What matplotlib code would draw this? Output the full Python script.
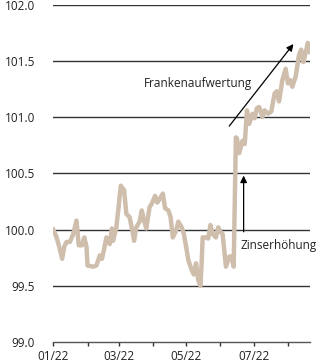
import matplotlib
matplotlib.use("Agg")
import matplotlib.pyplot as plt
import matplotlib.dates as mdates
import pandas as pd

plt.rcParams['font.family'] = ['Open Sans', 'DejaVu Sans']

# index level
dates = [
    '2022-01-01', '2022-01-04', '2022-01-06', '2022-01-09', '2022-01-11', '2022-01-13',
    '2022-01-16', '2022-01-19', '2022-01-22', '2022-01-24', '2022-01-27', '2022-01-29',
    '2022-01-31', '2022-02-01', '2022-02-06', '2022-02-09', '2022-02-12', '2022-02-14',
    '2022-02-16', '2022-02-18', '2022-02-21', '2022-02-23', '2022-02-24', '2022-02-27',
    '2022-03-01', '2022-03-03', '2022-03-06', '2022-03-08', '2022-03-11', '2022-03-14',
    '2022-03-15', '2022-03-17', '2022-03-20', '2022-03-22', '2022-03-24', '2022-03-26',
    '2022-03-29', '2022-03-31', '2022-04-03', '2022-04-05', '2022-04-07', '2022-04-10',
    '2022-04-12', '2022-04-15', '2022-04-17', '2022-04-19', '2022-04-22', '2022-04-24',
    '2022-04-27', '2022-04-29', '2022-05-01', '2022-05-03', '2022-05-06', '2022-05-08',
    '2022-05-10', '2022-05-12', '2022-05-14', '2022-05-15', '2022-05-16', '2022-05-19',
    '2022-05-21', '2022-05-23', '2022-05-25', '2022-05-28', '2022-05-30', '2022-06-01',
    '2022-06-03', '2022-06-05', '2022-06-06', '2022-06-09', '2022-06-11', '2022-06-13',
    '2022-06-15', '2022-06-16', '2022-06-18', '2022-06-21', '2022-06-23', '2022-06-25',
    '2022-06-27', '2022-06-30', '2022-07-02', '2022-07-04', '2022-07-06', '2022-07-09',
    '2022-07-11', '2022-07-14', '2022-07-17', '2022-07-20', '2022-07-22', '2022-07-24',
    '2022-07-27', '2022-07-30', '2022-08-01', '2022-08-03', '2022-08-05', '2022-08-08',
    '2022-08-11', '2022-08-13', '2022-08-15', '2022-08-17', '2022-08-19', '2022-08-21',
]
values = [
    100.00, 99.93, 99.86, 99.74, 99.85, 99.89,
    99.89, 99.96, 100.08, 99.86, 99.86, 99.93,
    99.85, 99.68, 99.67, 99.68, 99.77, 99.74,
    99.83, 99.93, 99.87, 100.01, 99.90, 100.02,
    100.20, 100.39, 100.35, 100.14, 100.11, 99.96,
    99.90, 100.02, 100.07, 100.17, 100.08, 100.01,
    100.20, 100.23, 100.30, 100.24, 100.27, 100.32,
    100.19, 100.17, 100.11, 99.93, 99.99, 100.07,
    100.02, 99.96, 99.85, 99.73, 99.64, 99.60,
    99.70, 99.55, 99.50, 99.69, 99.93, 99.93,
    99.92, 100.04, 99.96, 99.93, 100.02, 99.98,
    99.96, 99.77, 99.67, 99.76, 99.76, 99.67,
    100.82, 100.81, 100.68, 100.79, 100.76, 101.06,
    100.94, 101.03, 100.99, 101.08, 101.09, 101.00,
    101.06, 101.03, 101.05, 101.21, 101.23, 101.14,
    101.33, 101.43, 101.30, 101.33, 101.27, 101.36,
    101.55, 101.60, 101.49, 101.57, 101.66, 101.58,
]
y_ticks = [99.0, 99.5, 100.0, 100.5, 101.0, 101.5, 102.0]

x = pd.to_datetime(dates)

fig = plt.figure(figsize=(3.33, 3.6), dpi=100)
ax = fig.add_axes([0.160, 0.05, 0.771, 0.937])

for yv in y_ticks[1:]:
    ax.axhline(yv, color='#333333', lw=1.0, zorder=1)

ax.plot(x, values, color='#cfbeac', lw=3.2, solid_joinstyle='round', zorder=3)

ax.set_ylim(99.0, 102.0)
ax.set_xlim(pd.Timestamp('2022-01-01'), pd.Timestamp('2022-08-21'))
ax.set_yticks(y_ticks)
ax.set_yticklabels([f'{v:.1f}' for v in y_ticks])

for s in ['top', 'right', 'left']:
    ax.spines[s].set_visible(False)
ax.spines['bottom'].set_color('#555555')
ax.spines['bottom'].set_linewidth(1.0)

ax.xaxis.set_major_locator(mdates.MonthLocator())
ax.xaxis.set_major_formatter(
    plt.FuncFormatter(lambda v, p: mdates.num2date(v).strftime('%m/%y')
                      if mdates.num2date(v).month % 2 == 1 else ''))
ax.tick_params(axis='x', length=3, width=1, color='#333333', pad=3,
               labelsize=8.5, labelcolor='#222222')
ax.tick_params(axis='y', length=0, pad=13, labelsize=8.5, labelcolor='#222222')

# annotations
ax.annotate('', xy=(pd.Timestamp('2022-08-06'), 101.65),
            xytext=(pd.Timestamp('2022-06-09'), 100.92),
            arrowprops=dict(arrowstyle='-|>', color='black', lw=0.9,
                            mutation_scale=10, shrinkA=0, shrinkB=0), zorder=4)
ax.text(pd.Timestamp('2022-06-30'), 101.30, 'Frankenaufwertung',
        ha='right', va='center', fontsize=8.5, color='#222222')

ax.annotate('', xy=(pd.Timestamp('2022-06-22'), 100.48),
            xytext=(pd.Timestamp('2022-06-22'), 99.98),
            arrowprops=dict(arrowstyle='-|>', color='black', lw=0.9,
                            mutation_scale=10, shrinkA=0, shrinkB=0), zorder=4)
ax.text(pd.Timestamp('2022-06-19'), 99.86, 'Zinserhöhung',
        ha='left', va='center', fontsize=8.5, color='#222222')

fig.savefig('out.png', dpi=100)
